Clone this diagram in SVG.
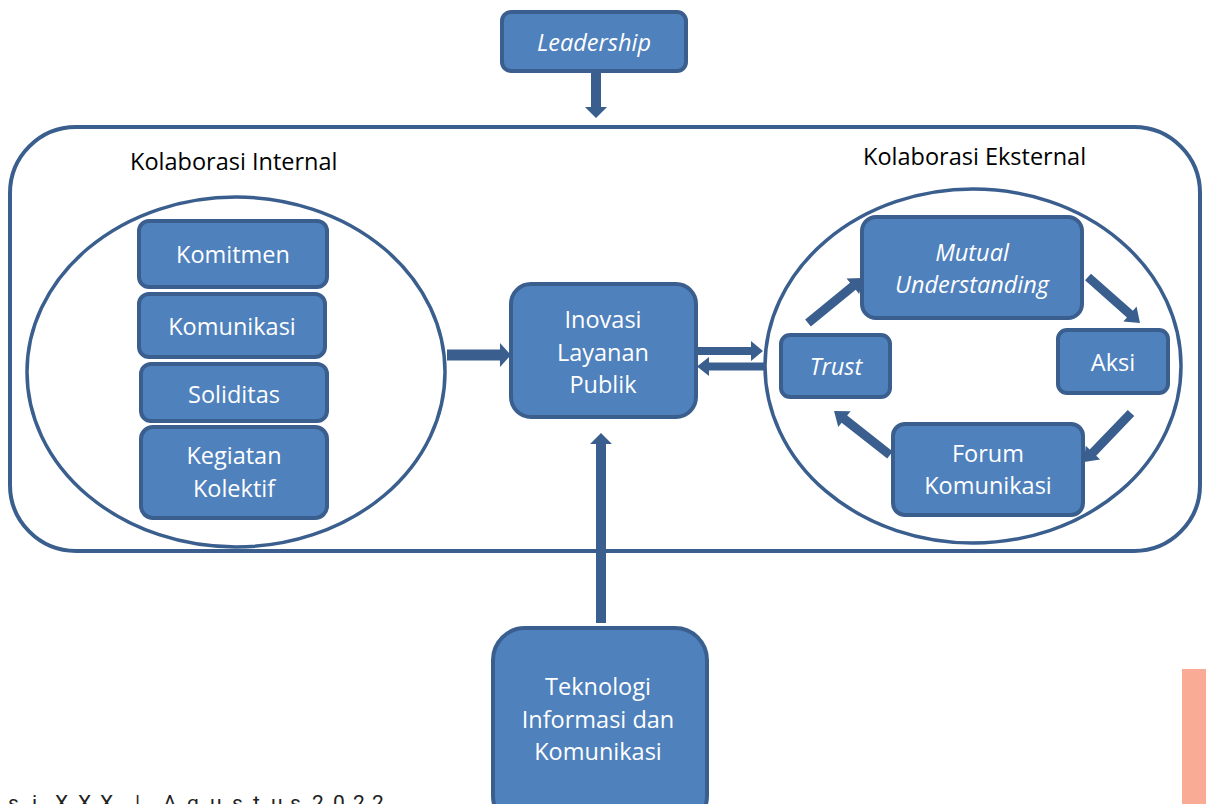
<svg xmlns="http://www.w3.org/2000/svg" width="1206" height="804" viewBox="0 0 1206 804">
<style>
.box{fill:#4F81BD;stroke:#3A5F8E;stroke-width:4}
.ring{fill:none;stroke:#3A5F8E;stroke-width:3.5}
.t{font-family:"Open Sans","Noto Sans","DejaVu Sans",sans-serif;font-size:23.5px;fill:#ffffff;text-anchor:middle}
.i{font-style:italic}
.lbl{font-family:"Open Sans","Noto Sans","DejaVu Sans",sans-serif;font-size:23.5px;fill:#000000}
.arr{fill:#3A5F8E}
.foot{font-family:Roboto,"Liberation Sans",sans-serif;font-size:21px;fill:#222222}
</style>
<rect width="1206" height="804" fill="#ffffff"/>
<g id="frame">
<rect x="10" y="127" width="1190" height="424" rx="66" ry="66" fill="#ffffff" stroke="#3A5F8E" stroke-width="4"/>
<text class="lbl" x="130" y="170">Kolaborasi Internal</text>
<text class="lbl" x="863" y="165">Kolaborasi Eksternal</text>
</g>
<g id="internal-ellipse"><ellipse class="ring" cx="236" cy="372" rx="209" ry="175"/></g>
<g id="external-ellipse"><ellipse class="ring" cx="973" cy="366" rx="208" ry="177"/></g>
<g id="leadership">
<rect class="box" x="502" y="12" width="184" height="59" rx="9"/>
<text class="t i" x="594" y="51">Leadership</text>
</g>
<g id="komitmen">
<rect class="box" x="139" y="221" width="188" height="66" rx="10"/>
<text class="t" x="233" y="263">Komitmen</text>
</g>
<g id="komunikasi">
<rect class="box" x="139" y="294" width="186" height="63" rx="10"/>
<text class="t" x="232" y="335">Komunikasi</text>
</g>
<g id="soliditas">
<rect class="box" x="141" y="364" width="186" height="57" rx="10"/>
<text class="t" x="234" y="403">Soliditas</text>
</g>
<g id="kegiatan">
<rect class="box" x="141" y="427" width="186" height="91" rx="12"/>
<text class="t" x="234" y="464">Kegiatan</text>
<text class="t" x="234" y="497">Kolektif</text>
</g>
<g id="inovasi">
<rect class="box" x="511" y="284" width="185" height="133" rx="20"/>
<text class="t" x="603" y="328">Inovasi</text>
<text class="t" x="603" y="361">Layanan</text>
<text class="t" x="603" y="393">Publik</text>
</g>
<g id="mutual">
<rect class="box" x="862" y="217" width="220" height="101" rx="14"/>
<text class="t i" x="972" y="261">Mutual</text>
<text class="t i" x="972" y="293">Understanding</text>
</g>
<g id="trust">
<rect class="box" x="781" y="335" width="109" height="62" rx="9"/>
<text class="t i" x="836" y="375">Trust</text>
</g>
<g id="aksi">
<rect class="box" x="1058" y="330" width="110" height="63" rx="9"/>
<text class="t" x="1113" y="371">Aksi</text>
</g>
<g id="forum">
<rect class="box" x="893" y="424" width="190" height="91" rx="12"/>
<text class="t" x="988" y="462">Forum</text>
<text class="t" x="988" y="494">Komunikasi</text>
</g>
<g id="tik">
<rect class="box" x="493" y="628" width="214" height="200" rx="32"/>
<text class="t" x="598" y="695">Teknologi</text>
<text class="t" x="598" y="728">Informasi dan</text>
<text class="t" x="598" y="760">Komunikasi</text>
</g>
<g id="connectors">
<polygon class="arr" points="591,71 601,71 601,107 607,107 596,118 585,107 591,107"/>
<polygon class="arr" points="447,349.5 500,349.5 500,343 511,355 500,367 500,360.5 447,360.5"/>
<polygon class="arr" points="697,347 751,347 751,341 763,351 751,361 751,355 697,355"/>
<polygon class="arr" points="765,362.5 709,362.5 709,357 697,366.5 709,376 709,370.5 765,370.5"/>
<polygon class="arr" points="596,623 596,444 590,444 601,433 612,444 606,444 606,623"/>
<polygon class="arr" transform="translate(808,323) rotate(-39.3)" points="0,-4.5 58,-4.5 58,-10 71,0 58,10 58,4.5 0,4.5"/>
<polygon class="arr" transform="translate(1088,277) rotate(41.5)" points="0,-4.5 56,-4.5 56,-10 69.4,0 56,10 56,4.5 0,4.5"/>
<polygon class="arr" transform="translate(1131,413) rotate(133.8)" points="0,-4.5 55,-4.5 55,-10 67.9,0 55,10 55,4.5 0,4.5"/>
<polygon class="arr" transform="translate(890,455) rotate(-141.8)" points="0,-4.5 58,-4.5 58,-10 71.2,0 58,10 58,4.5 0,4.5"/>
</g>
<rect x="1182" y="669" width="24" height="135" fill="#F9AB96"/>
<text class="foot" x="8 32 44 55 78 100 118 135 148 163 187 210 232 253 271 290 302 312 333 353 372" y="810">si XXX | Agustus 2022</text>
</svg>
